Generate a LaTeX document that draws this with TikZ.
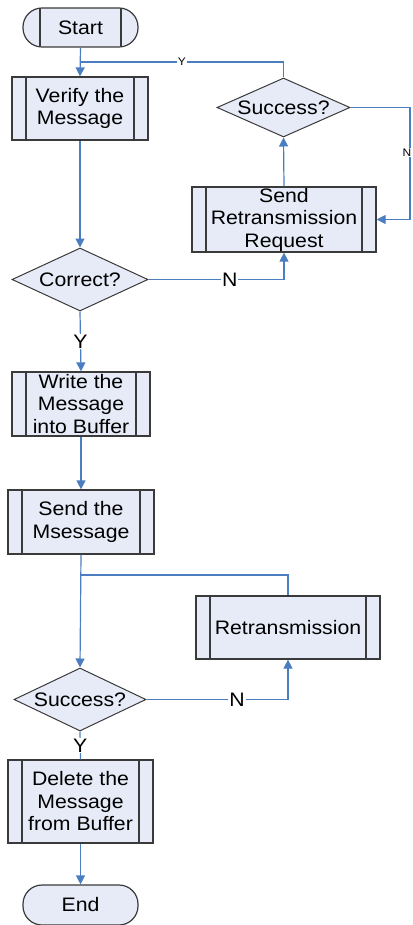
\documentclass[tikz,border=0pt]{standalone}
\usepackage{fontspec}
\setmainfont{Liberation Sans}[FakeStretch=1.09]
\usetikzlibrary{shapes.geometric,arrows.meta}
\definecolor{boxfill}{HTML}{E6EBF7}
\definecolor{boxline}{HTML}{3A3A3A}
\definecolor{flowblue}{HTML}{4A7EC0}
\tikzset{
  proc/.style={draw=boxline, fill=boxfill, line width=1.2pt, inner sep=0pt,
    align=center, font=\fontsize{19.5}{22.5}\selectfont,
    path picture={
      \draw[boxline, line width=1.2pt]
        ([xshift=14pt]path picture bounding box.north west) -- ([xshift=14pt]path picture bounding box.south west)
        ([xshift=-14pt]path picture bounding box.north east) -- ([xshift=-14pt]path picture bounding box.south east);
    }},
  term/.style={draw=boxline, fill=boxfill, line width=1.2pt, inner sep=0pt,
    rounded corners=19pt, font=\fontsize{19.5}{22.5}\selectfont},
  decide/.style={diamond, draw=boxline, fill=boxfill, line width=1pt, inner sep=0pt,
    font=\fontsize{19.5}{22.5}\selectfont},
  flow/.style={draw=flowblue, line width=1.2pt},
  arr/.style={flow, -{Triangle[length=9pt,width=9pt]}},
  tag/.style={fill=white, inner sep=1pt, font=\fontsize{19.5}{22.5}\selectfont},
  smalltag/.style={fill=white, inner sep=1pt, font=\fontsize{11}{12}\selectfont}
}
\begin{document}
\begin{tikzpicture}[x=1pt,y=1pt]
\useasboundingbox (0,0) rectangle (412,-925);

% start terminal with side bars
\node[term, minimum width=115pt, minimum height=39pt,
  path picture={
    \draw[boxline, line width=1.2pt]
      ([xshift=17pt]path picture bounding box.north west) -- ([xshift=17pt]path picture bounding box.south west)
      ([xshift=-17pt]path picture bounding box.north east) -- ([xshift=-17pt]path picture bounding box.south east);
  }] (start) at (80.5,-27.5) {Start};

\node[proc, minimum width=136pt, minimum height=63pt] (verify) at (80,-108.5) {Verify the\\Message};
\node[decide, minimum width=133pt, minimum height=59pt, aspect=2.25] (succA) at (283.5,-107.5) {\makebox[0pt]{Success?}};
\node[proc, minimum width=184pt, minimum height=65pt] (req) at (284,-219.5) {Send\\Retransmission\\Request};
\node[decide, minimum width=136pt, minimum height=63pt, aspect=2.15] (correct) at (80,-279.5) {\makebox[0pt]{Correct?}};
\node[proc, minimum width=138pt, minimum height=64pt] (write) at (81,-404) {Write the\\Message\\into Buffer};
\node[proc, minimum width=146pt, minimum height=64pt] (send) at (81,-522) {Send the\\Msessage};
\node[proc, minimum width=184pt, minimum height=63pt] (retr) at (288,-627.5) {Retransmission};
\node[decide, minimum width=132pt, minimum height=63pt, aspect=2.1] (succB) at (80,-699.5) {\makebox[0pt]{Success?}};
\node[proc, minimum width=145pt, minimum height=83pt] (del) at (80.5,-801.5) {Delete the\\Message\\from Buffer};
\node[term, minimum width=115pt, minimum height=40pt] (end) at (80.5,-905) {End};

% junction points
\coordinate (joinA) at (80,-62);
\coordinate (joinB) at (80,-575);
\coordinate (edgeR) at (410,-107.5);

% connectors
\draw[arr] (start.south) -- (verify.north);
\draw[flow] (succA.north) |- node[smalltag, pos=0.75] {Y} (joinA);
\draw[arr] (succA.east) -- (edgeR) |- node[smalltag, pos=0.2, xshift=-3pt] {N} (req.east);
\draw[arr] (req.north) -- (succA.south);
\draw[arr] (verify.south) -- (correct.north);
\draw[arr] (correct.east) -| node[tag, pos=0.30] {N} (req.south);
\draw[arr] (correct.south) -- node[tag, pos=0.5] {Y} (write.north);
\draw[arr] (write.south) -- (send.north);
\draw[arr] (send.south) -- (succB.north);
\draw[flow] (joinB) -| (retr.north);
\draw[arr] (succB.east) -| node[tag, pos=0.32] {N} (retr.south);
\draw[flow] (succB.south) -- node[tag, pos=0.5] {Y} (del.north);
\draw[arr] (del.south) -- (end.north);
\end{tikzpicture}
\end{document}
